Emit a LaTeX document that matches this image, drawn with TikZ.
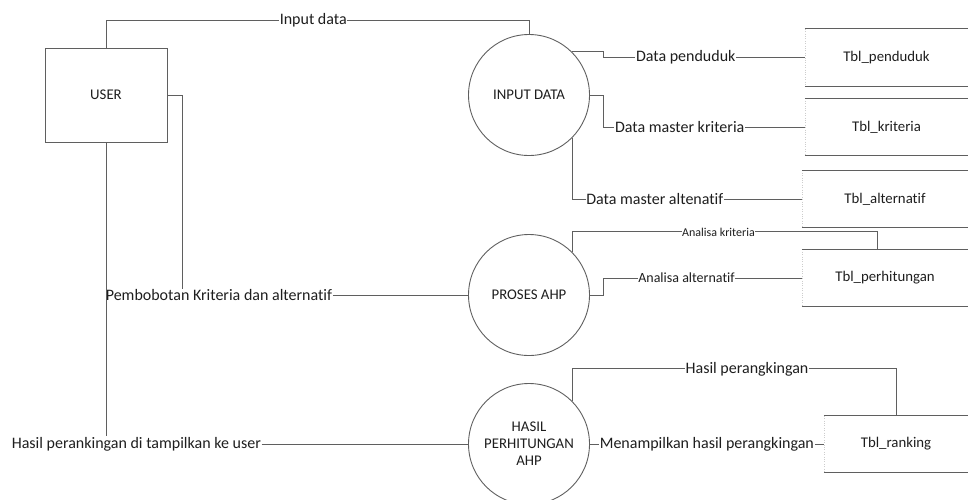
\documentclass[tikz,border=0pt]{standalone}
\usepackage{fontspec}
\setmainfont{Carlito}[Ligatures=NoCommon]
\usetikzlibrary{positioning,calc}
\definecolor{LineGray}{RGB}{95,95,95}
\definecolor{TextDark}{RGB}{30,30,30}
\definecolor{EdgeGray}{RGB}{205,205,205}
\tikzset{
  proc/.style={circle,draw=LineGray,line width=0.9pt,minimum size=121pt,inner sep=0pt,align=center,text=TextDark,font=\fontsize{14.8}{17}\selectfont},
  entity/.style={rectangle,draw=LineGray,line width=0.9pt,minimum width=122pt,minimum height=94pt,text=TextDark,font=\fontsize{14.8}{16}\selectfont},
  store/.style={minimum height=57pt,inner sep=0pt,text=TextDark,font=\fontsize{14.8}{16}\selectfont},
  flowpath/.style={draw=LineGray,line width=0.9pt},
  flowlabel/.style={fill=white,inner sep=0.6pt,text=TextDark,font=\fontsize{16}{18}\selectfont},
  smalllabel/.style={flowlabel,font=\fontsize{12}{14}\selectfont}
}
\begin{document}
\begin{tikzpicture}[x=1pt,y=-1pt]
\useasboundingbox (0,0) rectangle (968,499);
% entity and processes
\node[entity](user) at (106,95){USER};
\node[proc](indata) at (529,95){INPUT DATA};
\node[proc](proses) at (529,295){PROSES AHP};
\node[proc](hasil) at (529,444){HASIL\\PERHITUNGAN\\AHP};
% data stores
\node[store,minimum width=163pt](pend) at (886.5,57.5){Tbl\_penduduk};
\node[store,minimum width=163pt](krit) at (886.5,127){Tbl\_kriteria};
\node[store,minimum width=166pt](alt) at (885,199){Tbl\_alternatif};
\node[store,minimum width=166pt](perh) at (885,278){Tbl\_perhitungan};
\node[store,minimum width=144pt,minimum height=56pt](rank) at (896,444){Tbl\_ranking};
\foreach \s in {pend,krit,alt,perh,rank}{
  \draw[EdgeGray,dotted](\s.north west)--(\s.south west);
  \draw[flowpath](\s.north west)--(\s.north east) (\s.south west)--(\s.south east);
}
% labels on the left
\node[flowlabel,fill=none,anchor=west](pemb) at (105,295){Pembobotan Kriteria dan alternatif};
\node[flowlabel,fill=none,anchor=west](tampil) at (11,444){Hasil perankingan di tampilkan ke user};
\coordinate(jx) at (603,0);
\coordinate(toprail) at (0,20);
% flows
\draw[flowpath](user.north)--(user.north |- toprail)--node[flowlabel,pos=0.49]{Input data}(indata.north |- toprail)--(indata.north);
\draw[flowpath](indata.45)-|(jx |- pend.west)--node[flowlabel,pos=0.41]{Data penduduk}(pend.west);
\draw[flowpath](indata.east)-|(jx |- krit.west)--node[flowlabel,pos=0.38]{Data master kriteria}(krit.west);
\draw[flowpath](indata.-45)|-node[flowlabel,pos=0.68]{Data master altenatif}(alt.west);
\draw[flowpath](proses.45)--++(0,-20)-|node[smalllabel,pos=0.24]{Analisa kriteria}($(perh.north)+(-8,0)$);
\draw[flowpath](proses.east)-|(jx |- perh.west)--node[flowlabel,pos=0.42,font=\fontsize{14}{16}\selectfont]{Analisa alternatif}(perh.west);
\draw[flowpath](hasil.45)--++(0,-32)-|node[flowlabel,pos=0.27]{Hasil perangkingan}(rank.north);
\draw[flowpath](hasil.east)--node[flowlabel]{Menampilkan hasil perangkingan}(rank.west);
\draw[flowpath](user.east)--++(15,0) coordinate(uk)--(uk |- pemb.north);
\draw[flowpath](pemb.east)--(proses.west);
\draw[flowpath](user.south)--(user.south |- tampil.north);
\draw[flowpath](tampil.east)--(hasil.west);
\end{tikzpicture}
\end{document}
